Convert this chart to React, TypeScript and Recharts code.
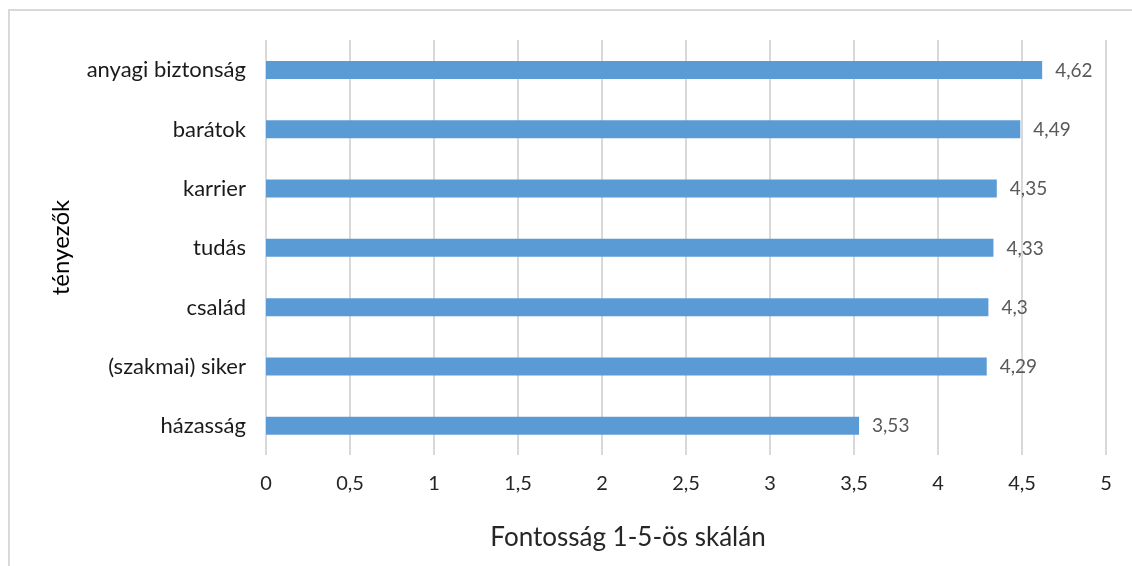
import React from 'react';
import { BarChart, Bar, XAxis, YAxis, CartesianGrid, LabelList } from 'recharts';

const categories = ['anyagi biztonság', 'barátok', 'karrier', 'tudás', 'család', '(szakmai) siker', 'házasság'];
const values = [4.62, 4.49, 4.35, 4.33, 4.3, 4.29, 3.53];
const xTicks = [0, 0.5, 1, 1.5, 2, 2.5, 3, 3.5, 4, 4.5, 5];
const xTitle = 'Fontosság 1-5-ös skálán';
const yTitle = 'tényezők';

const data = categories.map((name, i) => ({ name, value: values[i] }));

const FONT = 'Lato, "Open Sans", sans-serif';
const fmt = (v: number) => String(v).replace('.', ',');

const XTitle = (props: any) => {
  const vb = props.viewBox || {};
  return (
    <text x={vb.x + vb.width / 2 - 58} y={vb.y + 91} textAnchor="middle" fontFamily={FONT} fontSize={26} fill="#262626">
      {xTitle}
    </text>
  );
};

const YTitle = (props: any) => {
  const vb = props.viewBox || {};
  const cx = 61;
  const cy = vb.y + vb.height / 2;
  return (
    <text x={cx} y={cy} transform={`rotate(-90 ${cx} ${cy})`} textAnchor="middle" fontFamily={FONT} fontSize={24} fill="#000">
      {yTitle}
    </text>
  );
};

export default function App() {
  return (
    <div style={{ position: 'relative', width: 1116, height: 550 }}>
      <div style={{ position: 'fixed', left: 8, top: 9, right: 0, bottom: 0, borderTop: '2px solid #d9d9d9', borderLeft: '2px solid #d9d9d9', pointerEvents: 'none' }} />
      <BarChart
        width={1116}
        height={550}
        data={data}
        layout="vertical"
        margin={{ top: 32, right: 18, bottom: 0, left: 0 }}
        barCategoryGap="35%"
      >
        <CartesianGrid horizontal={false} stroke="#d9d9d9" strokeWidth={2} />
        <XAxis
          type="number"
          domain={[0, 5]}
          ticks={xTicks}
          tickFormatter={fmt}
          axisLine={false}
          tickLine={false}
          tickSize={0}
          tickMargin={21}
          height={103}
          interval={0}
          tick={{ fontFamily: FONT, fontSize: 20, fill: '#262626' }}
          label={<XTitle />}
        />
        <YAxis
          type="category"
          dataKey="name"
          width={258}
          axisLine={false}
          tickLine={false}
          tickSize={0}
          tickMargin={20}
          interval={0}
          tick={{ fontFamily: FONT, fontSize: 22, fill: '#1a1a1a' }}
          label={<YTitle />}
        />
        <Bar dataKey="value" fill="#5b9bd5" isAnimationActive={false} barSize={18}>
          <LabelList dataKey="value" position="right" offset={13} formatter={(v: any) => fmt(v)} style={{ fontFamily: FONT, fontSize: 19, fill: '#595959' }} />
        </Bar>
      </BarChart>
    </div>
  );
}
